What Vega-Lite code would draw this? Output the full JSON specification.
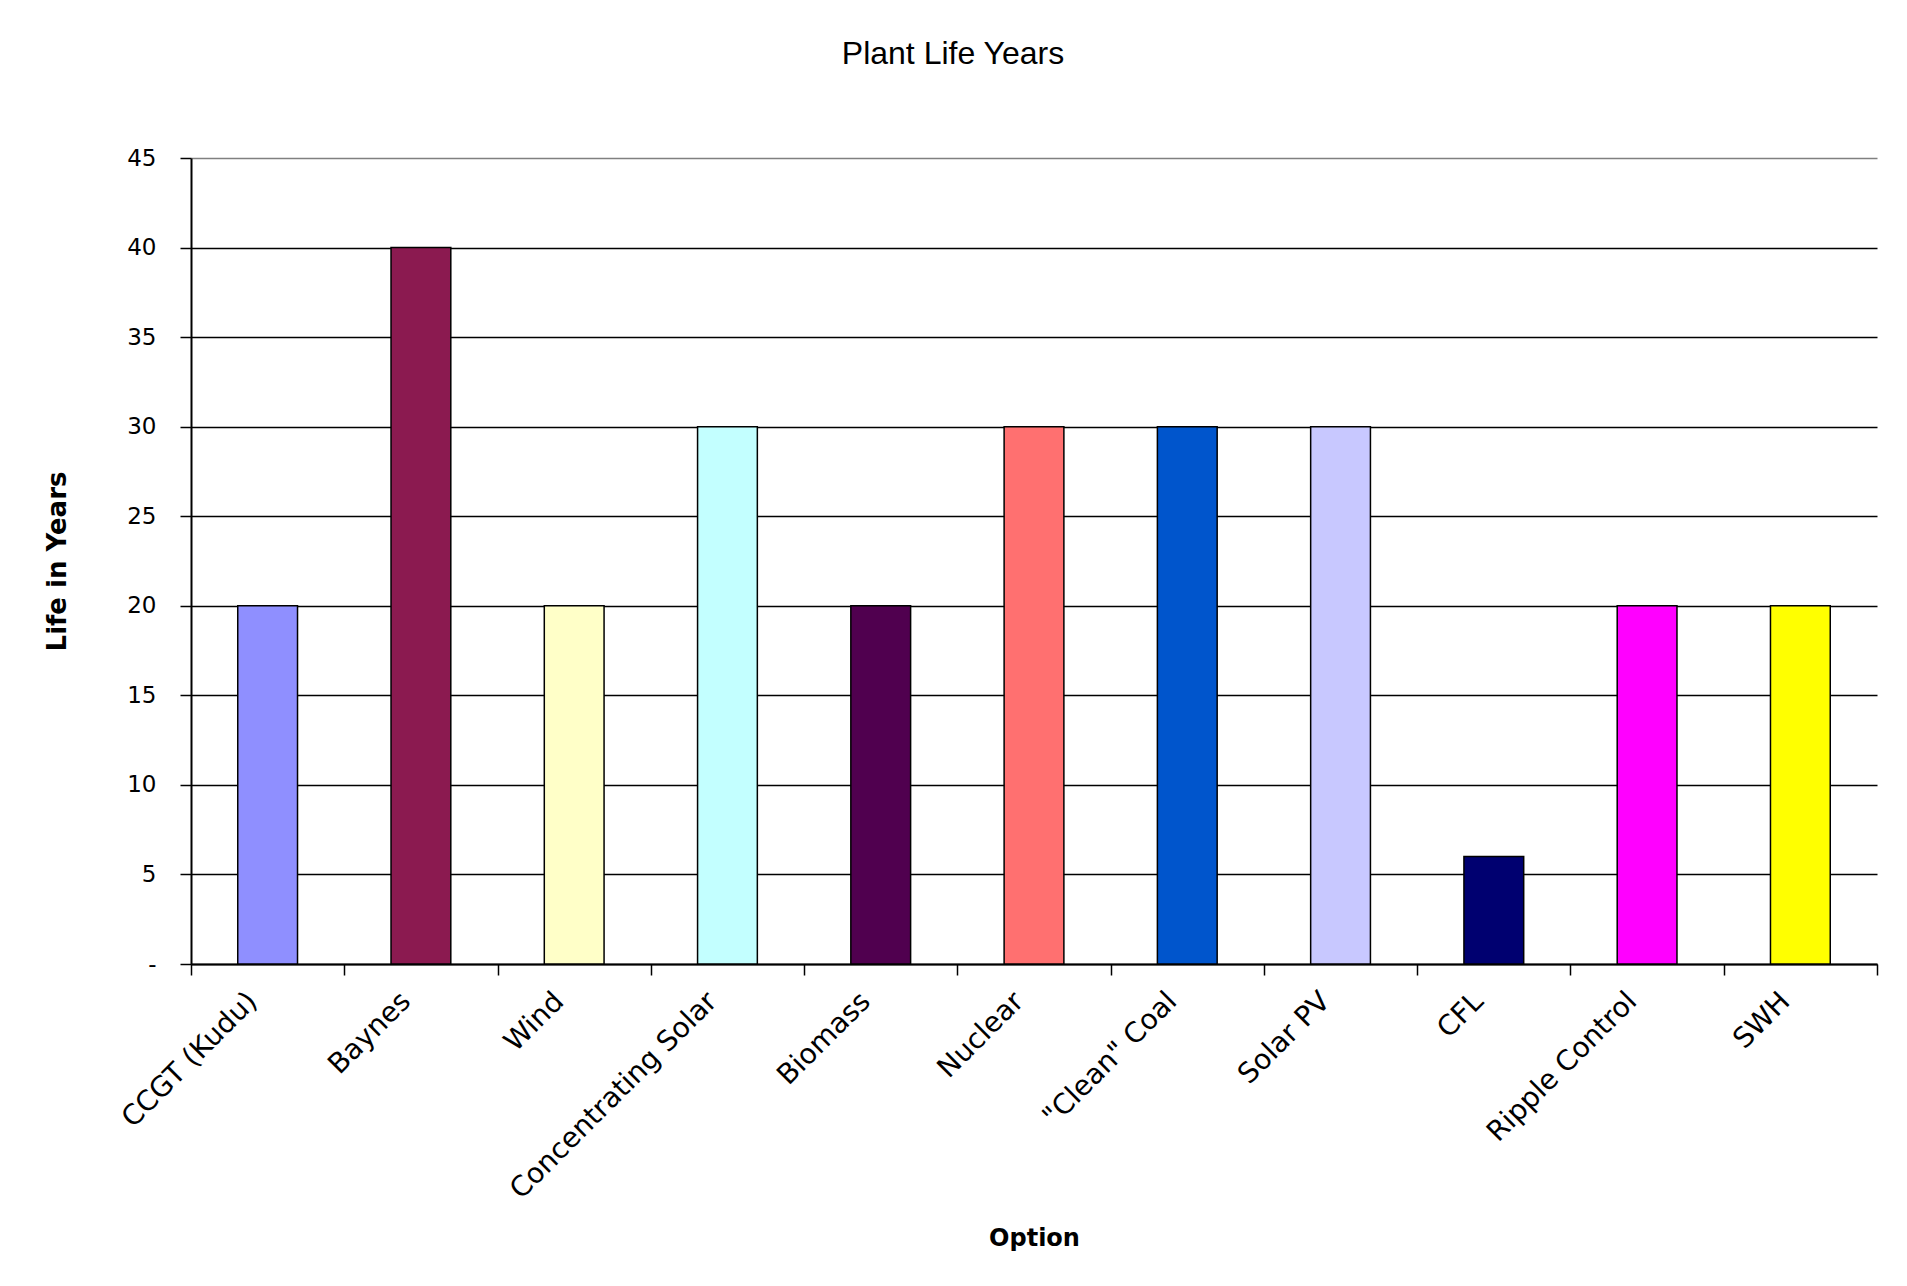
{
  "$schema": "https://vega.github.io/schema/vega-lite/v6.json",
  "autosize": "none",
  "padding": {"left": 191, "top": 158, "right": 30, "bottom": 322},
  "width": 1686,
  "height": 806,
  "background": "white",
  "title": {
    "text": "Plant Life Years",
    "font": "Liberation Sans",
    "fontSize": 32,
    "fontWeight": "normal",
    "color": "#000000",
    "anchor": "middle",
    "dx": -81,
    "offset": 76
  },
  "data": {
    "values": [
      {"option": "CCGT (Kudu)", "life": 20},
      {"option": "Baynes", "life": 40},
      {"option": "Wind", "life": 20},
      {"option": "Concentrating Solar", "life": 30},
      {"option": "Biomass", "life": 20},
      {"option": "Nuclear", "life": 30},
      {"option": "\"Clean\" Coal", "life": 30},
      {"option": "Solar PV", "life": 30},
      {"option": "CFL", "life": 6},
      {"option": "Ripple Control", "life": 20},
      {"option": "SWH", "life": 20}
    ]
  },
  "mark": {"type": "bar", "width": {"band": 0.39}, "stroke": "#000000", "strokeWidth": 1.5},
  "encoding": {
    "x": {
      "field": "option",
      "type": "nominal",
      "sort": null,
      "scale": {"paddingInner": 0, "paddingOuter": 0},
      "axis": {
        "title": "Option",
        "titleFont": "DejaVu Sans",
        "titleFontSize": 24,
        "titleFontWeight": "bold",
        "titleColor": "#000000",
        "titlePadding": 62,
        "labelAngle": -45,
        "labelFont": "DejaVu Sans",
        "labelFontSize": 28,
        "labelColor": "#000000",
        "labelPadding": 12,
        "labelOffset": -25,
        "labelLimit": 400,
        "tickBand": "extent",
        "tickSize": 11,
        "tickColor": "#000000",
        "tickWidth": 1.5,
        "domainColor": "#000000",
        "domainWidth": 2,
        "grid": false
      }
    },
    "y": {
      "field": "life",
      "type": "quantitative",
      "scale": {"domain": [0, 45], "nice": false},
      "axis": {
        "title": "Life in Years",
        "titleFont": "DejaVu Sans",
        "titleFontSize": 26,
        "titleFontWeight": "bold",
        "titleColor": "#000000",
        "titlePadding": 56,
        "values": [0, 5, 10, 15, 20, 25, 30, 35, 40, 45],
        "labelExpr": "datum.value == 0 ? '-' : datum.label",
        "labelFont": "DejaVu Sans",
        "labelFontSize": 23,
        "labelColor": "#000000",
        "labelPadding": 24,
        "tickSize": 11,
        "tickColor": "#000000",
        "tickWidth": 1.5,
        "domainColor": "#000000",
        "domainWidth": 2,
        "grid": true,
        "gridColor": {"condition": {"test": "datum.value == 45", "value": "#808080"}, "value": "#000000"},
        "gridWidth": 1.5,
        "gridOpacity": 1
      }
    },
    "color": {
      "field": "option",
      "type": "nominal",
      "legend": null,
      "scale": {
        "domain": ["CCGT (Kudu)", "Baynes", "Wind", "Concentrating Solar", "Biomass", "Nuclear", "\"Clean\" Coal", "Solar PV", "CFL", "Ripple Control", "SWH"],
        "range": ["#8F8FFF", "#8B1A50", "#FFFFC8", "#C3FFFF", "#50004F", "#FF7070", "#0055CC", "#C8C8FF", "#000070", "#FF00FF", "#FFFF00"]
      }
    }
  },
  "config": {
    "view": {"stroke": null},
    "bar": {"opacity": 1}
  }
}
